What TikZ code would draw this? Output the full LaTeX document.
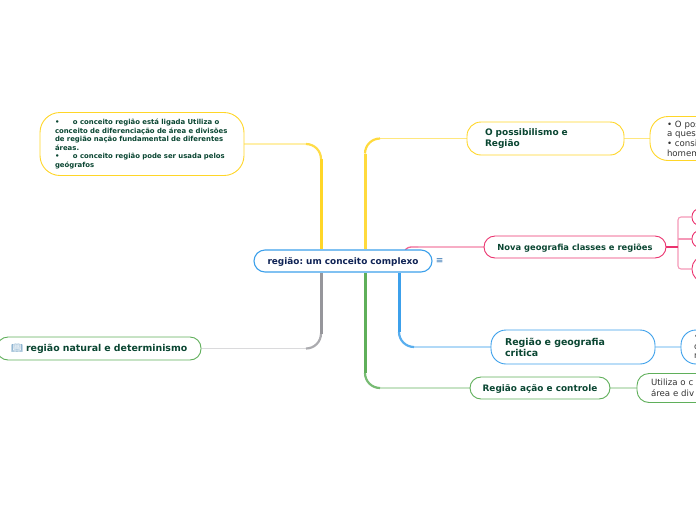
\documentclass[tikz,border=0pt]{standalone}
\usepackage{fontspec}
\setmainfont{DejaVu Sans}
\newfontfamily\emojifont{Noto Emoji}
\frenchspacing
\definecolor{mapnavy}{RGB}{15,35,85}
\definecolor{mapdark}{RGB}{10,70,50}
\definecolor{mapblue}{RGB}{60,160,235}
\definecolor{mapyellow}{RGB}{255,214,40}
\definecolor{mappink}{RGB}{235,50,110}
\definecolor{mapgreen}{RGB}{95,175,90}
\definecolor{mapgray}{RGB}{150,150,155}
\usetikzlibrary{positioning,calc}
\pgfdeclarelayer{links}
\pgfsetlayers{links,main}
\tikzset{
  topic/.style={draw=#1,fill=white,line width=0.9pt,inner ysep=0pt,inner xsep=0pt,
    text=mapdark,align=left,font=\bfseries\fontsize{8.9}{11}\selectfont},
  oneline/.style={align=center,text height=6.6pt,text depth=0pt},
  plain/.style={text=black!80,font=\fontsize{8.6}{9.6}\selectfont},
  trunk/.style={line width=3pt},
  corner/.style={line width=2.2pt,rounded corners=15pt},
  tail/.style={line width=1.1pt},
}
\begin{document}
\begin{tikzpicture}[x=1pt,y=-1pt]
  \useasboundingbox (0,0) rectangle (696,520);
  % left side
  \node[topic=mapyellow,rounded corners=20pt,minimum height=63pt,inner xsep=15pt,text width=174pt,font=\bfseries\fontsize{6.9}{8.6}\selectfont] (concept) at (142,144) {\makebox[18pt][l]{•}o conceito região está ligada Utiliza o\\conceito de diferenciação de área e divisões\\de região nação fundamental de diferentes\\áreas.\\\makebox[18pt][l]{•}o conceito região pode ser usada pelos\\geógrafos};
  \node[topic=mapgreen,rounded corners=11pt,minimum height=23pt,inner xsep=10pt,text width=184pt,text height=6.6pt,text depth=0pt,font=\bfseries\fontsize{9.4}{11}\selectfont] (natural) at (99,348.5) {\hspace*{4pt}\makebox[15pt][l]{\emojifont\color{mapblue!55!gray}\char"1F4D6}região natural e determinismo};
  % centre
  \node[topic=mapblue,oneline,rounded corners=11pt,line width=1.1pt,minimum width=178pt,minimum height=22pt,text=mapnavy] (root) at (343,261) {região: um conceito complexo};
  \node[right=3pt of root,inner sep=0pt,text=mapblue!60!mapnavy,font=\fontsize{9}{9}\selectfont] (menu) {≡};
  % right side, first level
  \node[topic=mapyellow,rounded corners=14pt,minimum height=33pt,inner xsep=18pt,text width=121pt,font=\bfseries\fontsize{9}{11}\selectfont] (possib) at (545.5,138.5) {O possibilismo e\\Região};
  \node[topic=mappink,oneline,rounded corners=11pt,minimum width=182pt,minimum height=22pt,font=\bfseries\fontsize{8.35}{11}\selectfont] (nova) at (575,247) {Nova geografia classes e regiões};
  \node[topic=mapblue,rounded corners=15pt,minimum height=34pt,inner xsep=14pt,text width=136pt,font=\bfseries\fontsize{9.45}{11}\selectfont] (critica) at (573,347) {Região e geografia\\critica};
  \node[topic=mapgreen,oneline,rounded corners=11pt,minimum width=140pt,minimum height=22pt] (acao) at (540,388) {Região ação e controle};
  % right side, second level, running off the page
  \node[topic=mapyellow,plain,rounded corners=18pt,minimum height=44pt,inner xsep=17pt,text width=66pt] (possibtxt) at (700,138.5) {• O pos\\a quest\\• consi\\homem};
  \node[topic=mappink,rounded corners=8pt,minimum width=30pt,minimum height=17pt] (pinka) at (707,217) {};
  \node[topic=mappink,rounded corners=8pt,minimum width=30pt,minimum height=17pt] (pinkb) at (707,239) {};
  \node[topic=mappink,rounded corners=12pt,minimum width=30pt,minimum height=25pt] (pinkc) at (707,269) {};
  \node[topic=mapblue,plain,rounded corners=15pt,minimum height=34pt,inner xsep=13pt,text width=34pt] (criticatxt) at (711,347) {•\\c\\n};
  \node[topic=mapgreen,plain,rounded corners=12pt,minimum height=29pt,inner xsep=14pt,text width=102pt,font=\fontsize{8.6}{11}\selectfont] (acaotxt) at (702,388) {Utiliza o c\\área e div};

  \coordinate (ylA) at (321,159);
  \coordinate (ylB) at (306,144);
  \coordinate (glA) at (321,333.5);
  \coordinate (glB) at (306,348.5);
  \coordinate (yrA) at (365,153.5);
  \coordinate (yrB) at (380,138.5);
  \coordinate (blA) at (399,332);
  \coordinate (blB) at (414,347);
  \coordinate (grA) at (365,373);
  \coordinate (grB) at (380,388);
  \coordinate (prA) at (404,251);
  \coordinate (prB) at (418,247);
  \coordinate (fork) at (678,247);

  \begin{pgfonlayer}{links}
  \draw[mapyellow!40,tail] (concept.east) -- (ylB);
  \draw[mapyellow!85,corner] (ylB) -| (ylA);
  \draw[mapyellow,trunk] (ylA) -- (ylA |- root.north);
  \draw[mapgray!35,tail] (natural.east) -- (glB);
  \draw[mapgray!80,corner] (glB) -| (glA);
  \draw[mapgray,trunk] (glA) -- (glA |- root.south);
  \draw[mapyellow!60,tail] (possib.west) -- (yrB);
  \draw[mapyellow!90,corner] (yrB) -| (yrA);
  \draw[mapyellow!90,trunk] (yrA) -- (yrA |- root.north);
  \draw[mapblue!40,tail] (critica.west) -- (blB);
  \draw[mapblue!85,corner] (blB) -| (blA);
  \draw[mapblue,trunk] (blA) -- (blA |- root.south);
  \draw[mapgreen!35,tail] (acao.west) -- (grB);
  \draw[mapgreen!85,corner] (grB) -| (grA);
  \draw[mapgreen,trunk] (grA) -- (grA |- root.south);
  \draw[mappink!40,tail] (nova.west) -- (prB);
  \draw[mappink!75,line width=1.3pt,rounded corners=7pt] (prB) -| (prA);
  \draw[mapyellow!60,tail] (possib.east) -- (possibtxt.west);
  \draw[mapblue!35,line width=1.4pt] (critica.east) -- (criticatxt.west);
  \draw[mapgreen!35,tail] (acao.east) -- (acaotxt.west);
  \draw[mappink!50,tail,rounded corners=3pt] (fork) |- (pinka.west);
  \draw[mappink!50,tail] (fork |- pinkb.west) -- (pinkb.west);
  \draw[mappink!50,tail,rounded corners=3pt] (fork) |- (pinkc.west);
  \draw[mappink,line width=1.5pt] (nova.east) -- (fork);
  \end{pgfonlayer}
\end{tikzpicture}
\end{document}
